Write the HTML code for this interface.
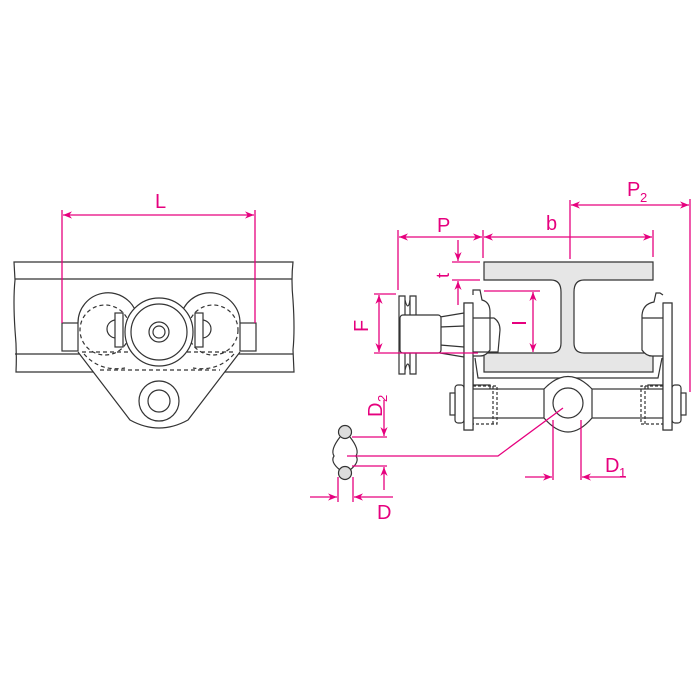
<!DOCTYPE html>
<html><head><meta charset="utf-8"><style>
html,body{margin:0;padding:0;background:#fff;width:700px;height:700px;overflow:hidden}
svg{display:block}
text{font-family:"Liberation Sans",sans-serif;fill:#e6007e}
</style></head><body>
<svg width="700" height="700" viewBox="0 0 700 700" xmlns="http://www.w3.org/2000/svg">
<defs>
<marker id="a" viewBox="0 0 10 10" refX="10" refY="5" markerWidth="9" markerHeight="9" orient="auto-start-reverse" markerUnits="userSpaceOnUse"><path d="M0,1 L10,5 L0,9 L3,5 Z" fill="#e6007e"/></marker>
</defs>
<!-- LEFT VIEW -->
<g fill="none" stroke="#333" stroke-width="1.2">
<path d="M14,262 L293,262 Q291,280 293,300 Q295,330 293,350 L294,372 L16,372 Q17,350 15,330 Q13,300 15,280 Z" fill="#fff"/>
<line x1="15" y1="279" x2="292" y2="279"/>
<line x1="15" y1="354" x2="293" y2="354"/>
<!-- bracket -->
<path d="M78,352 L130,420 Q159,436 188,420 L240,352 Z" fill="#fff" stroke="none"/>
<path d="M78,352 L130,420 Q159,436 188,420 L240,352"/>
<circle cx="159" cy="401" r="20" fill="#fff"/>
<circle cx="159" cy="401" r="11"/>
<!-- end blocks -->
<rect x="62" y="323" width="16" height="28" fill="#fff"/>
<rect x="240" y="323" width="16" height="28" fill="#fff"/>
<!-- side wheels outline -->
<path d="M78,323 A30,30 0 0 1 136,312"/>
<path d="M240,323 A30,30 0 0 0 182,312"/>
<g stroke-dasharray="4,3">
<circle cx="105" cy="330" r="25"/>
<circle cx="213" cy="330" r="25"/>
<path d="M84,354 Q100,372 125,368"/>
<path d="M234,354 Q218,372 193,368"/>
<line x1="100" y1="370" x2="220" y2="370"/>
<line x1="82" y1="352" x2="236" y2="352"/>
</g>
<path d="M116,320 A9,9 0 1 0 116,338"/>
<path d="M202,320 A9,9 0 1 1 202,338"/>
<rect x="115" y="313" width="8" height="34" fill="#fff"/>
<rect x="195" y="313" width="8" height="34" fill="#fff"/>
<circle cx="159" cy="332" r="34" fill="#fff"/>
<circle cx="159" cy="332" r="28"/>
<circle cx="159" cy="332" r="10"/>
<circle cx="159" cy="332" r="6"/>
</g>
<g stroke="#e6007e" stroke-width="1.3" fill="none">
<line x1="62" y1="210" x2="62" y2="323"/>
<line x1="255" y1="210" x2="255" y2="323"/>
<line x1="63" y1="215" x2="254" y2="215" marker-start="url(#a)" marker-end="url(#a)"/>
</g>
<text x="155" y="208" font-size="20">L</text>

<!-- RIGHT VIEW -->
<g fill="none" stroke="#333" stroke-width="1.2">
<path d="M484,262 L653,262 L653,280 L584,280 Q574,280 574,292 L574,343 Q574,353 584,353 L653,353 L653,372 L484,372 L484,353 L551,353 Q561,353 561,343 L561,292 Q561,280 551,280 L484,280 Z" fill="#e6e6e6"/>
<path d="M475,358 L478,378 L658,378 L662,358"/>
<path d="M473,372 L473,385 L490,385 L490,392"/>
<path d="M665,372 L665,385 L648,385 L648,392"/>
<rect x="464" y="303" width="9" height="127" fill="#fff"/>
<path d="M473,295 L473,290 L480,290 L482,300 Q490,302 490,312 L490,350 Q486,356 480,356 L473,356" fill="#fff"/>
<path d="M473,318 L494,318 Q500,322 500,330 L498,352 L473,352"/>
<path d="M440,317 L464,313 M440,327 L464,326 M440,345 L464,347 M440,353 L464,357"/>
<path d="M399,296 L405,296 L405,374 L399,374 Z M410,296 L416,296 L416,374 L410,374 Z" fill="#fff"/>
<path d="M405,300 Q408,312 410,300 M405,370 Q408,358 410,370"/>
<rect x="400" y="315" width="41" height="38" rx="3" fill="#fff"/>
<rect x="663" y="303" width="9" height="127" fill="#fff"/>
<path d="M663,295 L660,293 L656,293 L654,302 Q643,304 642,315 L642,350 Q646,356 652,356 L663,356" fill="#fff"/>
<path d="M663,318 L642,318"/>
<rect x="471" y="389" width="192" height="29" fill="#fff"/>
<rect x="455" y="385" width="9" height="38" rx="3" fill="#fff"/>
<rect x="450" y="393" width="5" height="22" fill="#fff"/>
<rect x="672" y="385" width="9" height="38" rx="3" fill="#fff"/>
<rect x="681" y="393" width="5" height="22" fill="#fff"/>
<rect x="464" y="303" width="9" height="127" fill="#fff"/>
<rect x="663" y="303" width="9" height="127" fill="#fff"/>
<g stroke-dasharray="3,2">
<path d="M473,386 L497,386 L497,424 L473,424"/>
<path d="M493,386 L493,424"/>
<path d="M663,386 L641,386 L641,424 L663,424"/>
<path d="M645,386 L645,424"/>
</g>
<path d="M544,389 Q568,364 592,389 L592,418 Q568,446 544,418 Z" fill="#fff"/>
<circle cx="568" cy="403" r="15" fill="#fff"/>
<path d="M340,437 Q330,450 334,456 Q330,462 340,470 M350,437 Q360,450 356,456 Q360,462 350,470"/>
<circle cx="345" cy="432" r="6.5" fill="#ddd"/>
<circle cx="345" cy="473" r="6.5" fill="#ddd"/>
</g>
<g stroke="#e6007e" stroke-width="1.3" fill="none">
<line x1="398" y1="230" x2="398" y2="290"/>
<line x1="483" y1="230" x2="483" y2="258"/>
<line x1="653" y1="230" x2="653" y2="257"/>
<line x1="399" y1="237" x2="482" y2="237" marker-start="url(#a)" marker-end="url(#a)"/>
<line x1="484" y1="237" x2="652" y2="237" marker-start="url(#a)" marker-end="url(#a)"/>
<line x1="570" y1="200" x2="570" y2="259"/>
<line x1="690" y1="199" x2="690" y2="392"/>
<line x1="571" y1="205" x2="689" y2="205" marker-start="url(#a)" marker-end="url(#a)"/>
<line x1="452" y1="262" x2="480" y2="262"/>
<line x1="452" y1="280" x2="480" y2="280"/>
<line x1="458" y1="240" x2="458" y2="261" marker-end="url(#a)"/>
<line x1="458" y1="305" x2="458" y2="281" marker-end="url(#a)"/>
<line x1="484" y1="291" x2="540" y2="291"/>
<line x1="533" y1="292" x2="533" y2="352" marker-start="url(#a)" marker-end="url(#a)"/>
<line x1="512" y1="323" x2="526" y2="323" stroke-width="2"/>
<line x1="374" y1="294" x2="396" y2="294"/>
<line x1="374" y1="353" x2="478" y2="353"/>
<line x1="379" y1="295" x2="379" y2="352" marker-start="url(#a)" marker-end="url(#a)"/>
<line x1="553" y1="420" x2="553" y2="480"/>
<line x1="581" y1="420" x2="581" y2="480"/>
<line x1="525" y1="477" x2="552" y2="477" marker-end="url(#a)"/>
<line x1="626" y1="477" x2="582" y2="477" marker-end="url(#a)"/>
<polyline points="563,408 498,456 347,456"/>
<line x1="352" y1="437" x2="387" y2="437"/>
<line x1="352" y1="466" x2="387" y2="466"/>
<line x1="384" y1="400" x2="384" y2="436" marker-end="url(#a)"/>
<line x1="384" y1="490" x2="384" y2="467" marker-end="url(#a)"/>
<line x1="338" y1="477" x2="338" y2="502"/>
<line x1="353" y1="477" x2="353" y2="502"/>
<line x1="310" y1="497" x2="337" y2="497" marker-end="url(#a)"/>
<line x1="393" y1="497" x2="354" y2="497" marker-end="url(#a)"/>
</g>
<text x="437" y="232" font-size="20">P</text>
<text x="546" y="230" font-size="20">b</text>
<text x="627" y="196" font-size="20">P</text><text x="640" y="202" font-size="13">2</text>
<text x="605" y="472" font-size="20">D</text><text x="619" y="477" font-size="13">1</text>
<text x="377" y="519" font-size="20">D</text>
<text transform="translate(449,278) rotate(-90)" font-size="18">t</text>
<text transform="translate(368,332) rotate(-90)" font-size="20">F</text>
<text transform="translate(382,417) rotate(-90)" font-size="20">D</text>
<text transform="translate(387,402) rotate(-90)" font-size="13">2</text>
</svg>
</body></html>
